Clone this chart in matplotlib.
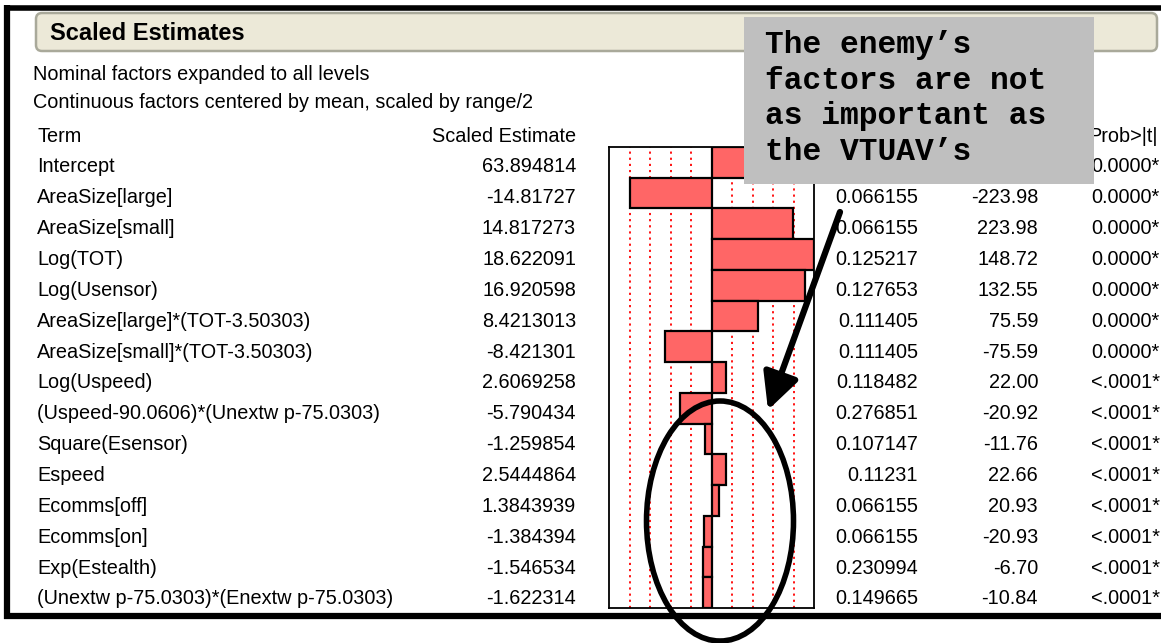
# -*- coding: utf-8 -*-
"""
Scaled Estimates table (JMP style) with bar chart and callout.
"""

import numpy as np
import matplotlib.pyplot as plt
from matplotlib.patches import FancyBboxPatch, Rectangle, Ellipse

#  Data

TERMS = ['Intercept', 'AreaSize[large]', 'AreaSize[small]', 'Log(TOT)',
         'Log(Usensor)', 'AreaSize[large]*(TOT-3.50303)',
         'AreaSize[small]*(TOT-3.50303)', 'Log(Uspeed)',
         '(Uspeed-90.0606)*(Unextw p-75.0303)', 'Square(Esensor)', 'Espeed',
         'Ecomms[off]', 'Ecomms[on]', 'Exp(Estealth)',
         '(Unextw p-75.0303)*(Enextw p-75.0303)']
ESTIMATES = ['63.894814', '-14.81727', '14.817273', '18.622091', '16.920598',
             '8.4213013', '-8.421301', '2.6069258', '-5.790434', '-1.259854',
             '2.5444864', '1.3843939', '-1.384394', '-1.546534', '-1.622314']
STD_ERRORS = ['', '0.066155', '0.066155', '0.125217', '0.127653', '0.111405',
              '0.111405', '0.118482', '0.276851', '0.107147', '0.11231',
              '0.066155', '0.066155', '0.230994', '0.149665']
T_RATIOS = ['', '-223.98', '223.98', '148.72', '132.55', '75.59', '-75.59',
            '22.00', '-20.92', '-11.76', '22.66', '20.93', '-20.93', '-6.70',
            '-10.84']
PROBS = ['<.0001*'] * 15
PROBS[:7] = ['0.0000*'] * 7
CALLOUT_LINES = ['The enemy’s', 'factors are not', 'as important as',
                 'the VTUAV’s']

#  Layout (pixels)
WIDTH, HEIGHT = 1161, 643
ROW_Y0 = 167.
ROW_STEP = 30.85
SANS = 'Liberation Sans'
FS = 14.3

FIG = plt.figure(figsize=(WIDTH / 100, HEIGHT / 100), dpi=100)

# Bar chart panel
BAR_AX = FIG.add_axes([609 / WIDTH, 1 - 608 / HEIGHT,
                       205 / WIDTH, 461 / HEIGHT])
VALUES = np.array([float(v) for v in ESTIMATES])
ROWS = np.arange(len(TERMS))
LIMIT = np.max(np.abs(VALUES[1:]))
BAR_AX.set_xlim(-LIMIT, LIMIT)
BAR_AX.set_ylim(len(TERMS) - 0.5, -0.5)
for frac in [-0.8, -0.6, -0.4, -0.2, 0.2, 0.4, 0.6, 0.8]:
    BAR_AX.axvline(frac * LIMIT, color='red', ls=(0, (1.2, 2.2)), lw=1.3,
                   zorder=1)
BAR_AX.barh(ROWS, VALUES, height=1.0, color='#FF6666', edgecolor='black',
            linewidth=1.6, zorder=2)
BAR_AX.axvline(0, color='black', lw=1.2, zorder=3)
BAR_AX.set_xticks([])
BAR_AX.set_yticks([])
for spine in BAR_AX.spines.values():
    spine.set_linewidth(1.3)

# Overlay in pixel coordinates
AX = FIG.add_axes([0, 0, 1, 1], zorder=5)
AX.set_xlim(0, WIDTH)
AX.set_ylim(HEIGHT, 0)
AX.axis('off')

# Outer frame
AX.plot([7, 7], [5, 619], color='black', lw=4.5, solid_capstyle='butt')
AX.plot([4, WIDTH], [7.5, 7.5], color='black', lw=4, solid_capstyle='butt')
AX.plot([4, WIDTH], [616, 616], color='black', lw=4.5,
        solid_capstyle='butt')

# Title bar
AX.add_patch(FancyBboxPatch((36, 13), 1121, 38,
                            boxstyle='round,pad=0,rounding_size=6',
                            facecolor='#ECE9D8', edgecolor='#A9A99A',
                            lw=1.8))
AX.text(50, 33, 'Scaled Estimates', fontsize=17, fontweight='bold',
        family=SANS, va='center', ha='left')

AX.text(33, 75, 'Nominal factors expanded to all levels', fontsize=FS,
        family=SANS, va='center')
AX.text(33, 103, 'Continuous factors centered by mean, scaled by range/2',
        fontsize=FS, family=SANS, va='center')

# Column headers (Std Error / t Ratio sit under the callout)
HEADER_Y = 136
AX.text(37, HEADER_Y, 'Term', fontsize=FS, family=SANS, va='center')
AX.text(576, HEADER_Y, 'Scaled Estimate', fontsize=FS, family=SANS,
        va='center', ha='right')
AX.text(1158, HEADER_Y, 'Prob>|t|', fontsize=FS, family=SANS,
        va='center', ha='right')

# Table rows
for i, term in enumerate(TERMS):
    y_pos = ROW_Y0 + ROW_STEP * i
    AX.text(37, y_pos, term, fontsize=FS, family=SANS, va='center')
    AX.text(576, y_pos, ESTIMATES[i], fontsize=FS, family=SANS,
            va='center', ha='right')
    if STD_ERRORS[i]:
        AX.text(918, y_pos, STD_ERRORS[i], fontsize=FS, family=SANS,
                va='center', ha='right')
        AX.text(1038, y_pos, T_RATIOS[i], fontsize=FS, family=SANS,
                va='center', ha='right')
    AX.text(1160, y_pos, PROBS[i], fontsize=FS, family=SANS,
            va='center', ha='right')

# Callout box
AX.add_patch(Rectangle((744, 17), 350, 167, facecolor='#BFBFBF',
                       edgecolor='none', zorder=4))
for i, line in enumerate(CALLOUT_LINES):
    AX.text(765, 45 + 35.7 * i, line, fontsize=22.5, fontweight='bold',
            family='Liberation Mono', va='center', ha='left', zorder=5)

# Arrow and ellipse
AX.annotate('', xy=(768, 410), xytext=(840, 212),
            arrowprops=dict(arrowstyle='-|>,head_length=1.0,head_width=0.5',
                            lw=4.5, color='black', mutation_scale=22,
                            shrinkA=0, shrinkB=0))
AX.add_patch(Ellipse((720, 521), 147, 240, facecolor='none',
                     edgecolor='black', lw=4))

plt.savefig('out.png', dpi=100)
